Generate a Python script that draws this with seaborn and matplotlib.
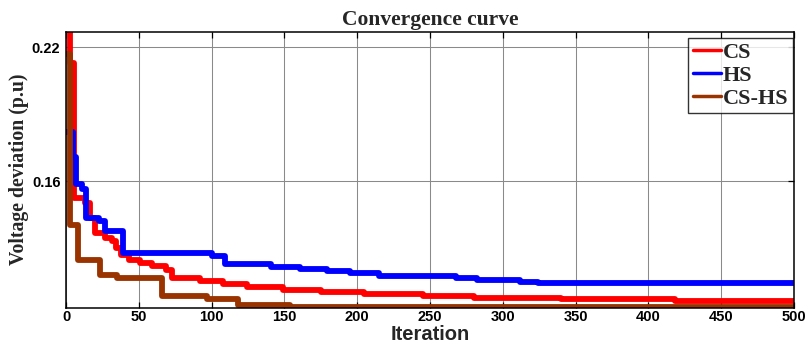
import numpy as np
import pandas as pd
import matplotlib
matplotlib.use("Agg")
import matplotlib.pyplot as plt
from matplotlib.lines import Line2D
import seaborn as sns

# Best-so-far voltage deviation (p.u) at the iterations where each optimiser improves
cs_iter = [0, 3, 5.5, 13, 16.5, 20, 27, 31.5, 34.5, 38, 43, 51, 59, 69, 73, 92, 108,
           124, 149, 175, 205, 245, 280, 340, 359, 418, 463, 500]
cs_dev = [0.2400, 0.2130, 0.1525, 0.1503, 0.1436, 0.1370, 0.1348, 0.1335, 0.1304,
          0.1273, 0.1251, 0.1238, 0.1224, 0.1206, 0.1171, 0.1157, 0.1140, 0.1127,
          0.1116, 0.1105, 0.1096, 0.1087, 0.1081, 0.1075, 0.1073, 0.1068, 0.1064, 0.1064]

hs_iter = [0, 5, 7, 11, 13.5, 23, 27, 39, 100, 109, 141, 161, 179, 195, 215, 268,
           282, 312, 324, 357, 500]
hs_dev = [0.1821, 0.1710, 0.1590, 0.1568, 0.1436, 0.1423, 0.1379, 0.1282, 0.1267,
          0.1233, 0.1219, 0.1208, 0.1201, 0.1193, 0.1178, 0.1170, 0.1158, 0.1151,
          0.1148, 0.1146, 0.1146]

cshs_iter = [0, 2.5, 8, 23.5, 35, 66, 97, 118, 154, 500]
cshs_dev = [0.2170, 0.1406, 0.1251, 0.1184, 0.1168, 0.1090, 0.1073, 0.1049, 0.1039, 0.1039]

algorithms = ["CS", "HS", "CS-HS"]
colors = ["#ff0000", "#0000ff", "#993300"]

x_ticks = list(range(0, 501, 50))
y_ticks = [0.16, 0.22]

frames = []
for name, it, dev in zip(algorithms, [cs_iter, hs_iter, cshs_iter], [cs_dev, hs_dev, cshs_dev]):
    frames.append(pd.DataFrame({"Iteration": it, "Deviation": dev, "Algorithm": name}))
df = pd.concat(frames, ignore_index=True)

sns.set_style("white")
plt.rcParams["font.family"] = ["Liberation Sans", "DejaVu Sans"]

serif = ["Liberation Serif", "DejaVu Serif"]

fig = plt.figure(figsize=(8.06, 3.44), dpi=100)
ax = fig.add_axes([0.0819, 0.1061, 0.9032, 0.8017])

sns.lineplot(data=df, x="Iteration", y="Deviation", hue="Algorithm",
             palette=dict(zip(algorithms, colors)), hue_order=algorithms,
             drawstyle="steps-post", estimator=None, sort=False,
             linewidth=4.2, legend=False, ax=ax)

ax.set_xlim(0, 500)
ax.set_ylim(0.1037, 0.2269)
ax.set_xticks(x_ticks)
ax.set_yticks(y_ticks)
ax.set_xticklabels([str(t) for t in x_ticks])
ax.set_yticklabels([f"{t:.2f}" for t in y_ticks])
ax.grid(True, color="#8a8a8a", linewidth=0.75, linestyle="-")
ax.set_axisbelow(True)

for s in ax.spines.values():
    s.set_visible(True)
    s.set_color("black")
    s.set_linewidth(1.1)

ax.tick_params(axis="both", which="major", direction="in", length=4, width=0.9,
               top=True, right=True, bottom=True, left=True, pad=4,
               labelsize=10.5, colors="black")
ax.tick_params(axis="x", pad=1.8)
for lbl in ax.get_xticklabels() + ax.get_yticklabels():
    lbl.set_fontweight("bold")

ax.set_xlabel("Iteration", fontsize=14.5, fontweight="bold", labelpad=0.6,
              family=["Liberation Sans", "DejaVu Sans"])
ax.set_ylabel("Voltage deviation (p.u)", fontsize=14.2, fontweight="bold", labelpad=2,
              family=serif)
ax.set_title("Convergence curve", fontsize=15.5, fontweight="bold", pad=4.8,
             family=serif)

handles = [Line2D([0], [0], color=c, linewidth=2.5) for c in colors]
leg = ax.legend(handles, algorithms, loc="upper right", bbox_to_anchor=(0.9985, 0.977),
                prop={"family": serif, "weight": "bold", "size": 16},
                handlelength=1.25, handletextpad=0.1, borderpad=0.2, labelspacing=0.1,
                borderaxespad=0.0, frameon=True, fancybox=False)
leg.get_frame().set_edgecolor("black")
leg.get_frame().set_linewidth(1.0)

fig.savefig("out.png", dpi=100)
